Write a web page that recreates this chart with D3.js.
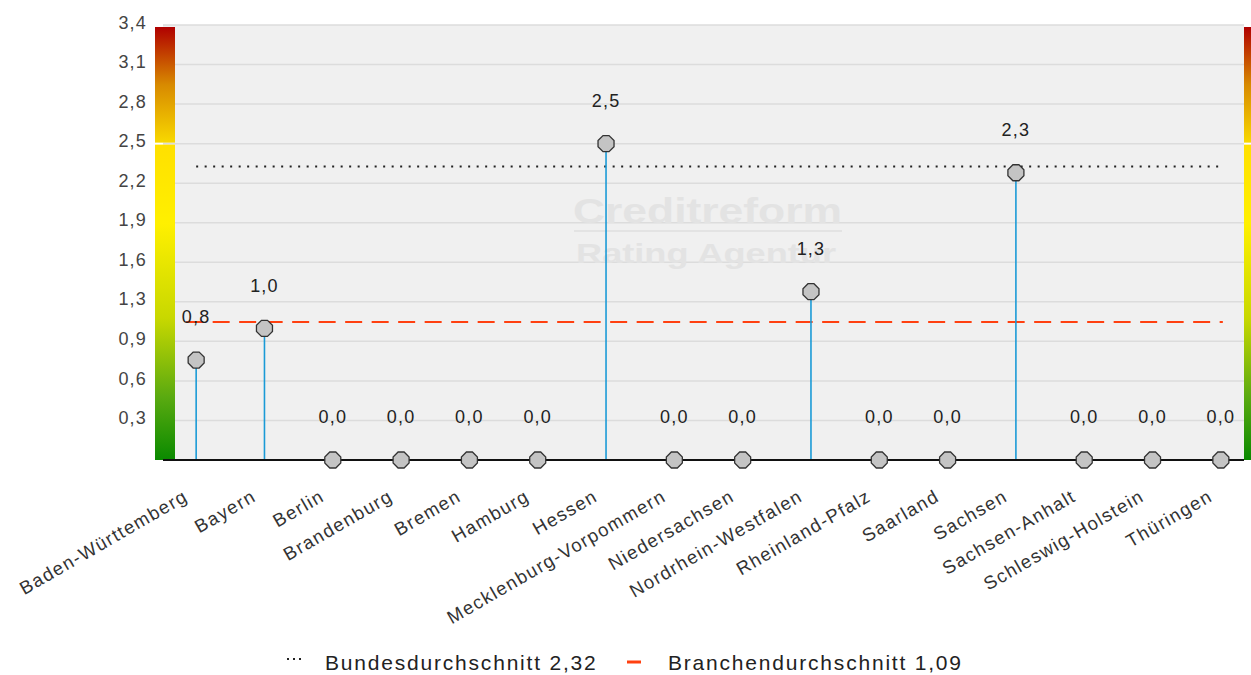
<!DOCTYPE html>
<html><head><meta charset="utf-8">
<script src="https://cdn.jsdelivr.net/npm/d3@7"></script>
<style>
html,body{margin:0;padding:0;background:#fff;}
svg{display:block;font-family:"Liberation Sans",Arial,sans-serif;}
</style></head>
<body><svg id="chart" width="1251" height="675"></svg>
<script>
const categories = ["Baden-Württemberg","Bayern","Berlin","Brandenburg","Bremen","Hamburg","Hessen","Mecklenburg-Vorpommern","Niedersachsen","Nordrhein-Westfalen","Rheinland-Pfalz","Saarland","Sachsen","Sachsen-Anhalt","Schleswig-Holstein","Thüringen"];
const values = [0.79, 1.04, 0, 0, 0, 0, 2.5, 0, 0, 1.33, 0, 0, 2.27, 0, 0, 0];
const yTickValues = [0.3125, 0.625, 0.9375, 1.25, 1.5625, 1.875, 2.1875, 2.5, 2.8125, 3.125, 3.4375];
const yTickLabels = ["0,3","0,6","0,9","1,3","1,6","1,9","2,2","2,5","2,8","3,1","3,4"];
const yMax = 3.4375;
const bundesAvg = 2.32;
const branchenAvg = 1.09;
const legendLabels = ["Bundesdurchschnitt 2,32", "Branchendurchschnitt 1,09"];

const svg = d3.select("#chart");
const x = d3.scaleBand().domain(categories).range([162, 1255]);
const y = d3.scaleLinear().domain([0, yMax]).range([460, 25]);
const cx = d => x(d) + x.bandwidth() / 2;
const fmt = v => d3.format(".1f")(v).replace(".", ",");

// background
svg.append("rect").attr("x", 163).attr("y", y(yMax)).attr("width", 1244 - 163).attr("height", y(0) - y(yMax)).attr("fill", "#f0f0f0");

// gridlines
svg.append("g").selectAll("line").data(yTickValues).join("line")
  .attr("x1", 163).attr("x2", 1244).attr("y1", d => y(d)).attr("y2", d => y(d))
  .attr("stroke", "#dcdcdc").attr("stroke-width", 1.5);

// gradients
const defs = svg.append("defs");
const gTop = defs.append("linearGradient").attr("id", "gTop").attr("x1", 0).attr("y1", 0).attr("x2", 0).attr("y2", 1);
gTop.append("stop").attr("offset", "0%").attr("stop-color", "#b00000");
gTop.append("stop").attr("offset", "50%").attr("stop-color", "#d88a00");
gTop.append("stop").attr("offset", "100%").attr("stop-color", "#f8d800");
const gBot = defs.append("linearGradient").attr("id", "gBot").attr("x1", 0).attr("y1", 0).attr("x2", 0).attr("y2", 1);
gBot.append("stop").attr("offset", "0%").attr("stop-color", "#ffe000");
gBot.append("stop").attr("offset", "25%").attr("stop-color", "#fff000");
gBot.append("stop").attr("offset", "55%").attr("stop-color", "#c8d800");
gBot.append("stop").attr("offset", "80%").attr("stop-color", "#5aaa10");
gBot.append("stop").attr("offset", "100%").attr("stop-color", "#0a8a00");

[155, 1244].forEach(bx => {
  svg.append("rect").attr("x", bx).attr("y", y(yMax) + 2).attr("width", 20).attr("height", y(2.5) - y(yMax) - 3).attr("fill", "url(#gTop)");
  svg.append("rect").attr("x", bx).attr("y", y(2.5) + 1).attr("width", 20).attr("height", y(0) - y(2.5) - 1).attr("fill", "url(#gBot)");
});

// watermark
const wm = svg.append("g").attr("fill", "#e3e3e3").attr("font-weight", "bold").attr("font-family", "'Liberation Sans',Arial,sans-serif");
wm.append("text").attr("x", 573).attr("y", 223).attr("font-size", 35)
  .attr("textLength", 269).attr("lengthAdjust", "spacingAndGlyphs").text("Creditreform");
wm.append("line").attr("x1", 574).attr("x2", 842).attr("y1", 231).attr("y2", 231).attr("stroke", "#e3e3e3").attr("stroke-width", 2);
wm.append("text").attr("x", 576).attr("y", 263).attr("font-size", 28)
  .attr("textLength", 260).attr("lengthAdjust", "spacingAndGlyphs").text("Rating Agentur");

// y tick labels
svg.append("g").selectAll("text").data(yTickValues).join("text")
  .attr("x", 147).attr("y", d => y(d)).attr("dy", "0.2em").attr("text-anchor", "end")
  .attr("font-size", 18).attr("letter-spacing", 1.2).attr("fill", "#444").text((d, i) => yTickLabels[i]);

// average lines
svg.append("line").attr("x1", cx(categories[0])).attr("x2", cx(categories[categories.length - 1]))
  .attr("y1", y(bundesAvg)).attr("y2", y(bundesAvg))
  .attr("stroke", "#222").attr("stroke-width", 2).attr("stroke-dasharray", "2,6.5");
svg.append("line").attr("x1", cx(categories[0]) - 10).attr("x2", cx(categories[categories.length - 1]) + 2)
  .attr("y1", y(branchenAvg)).attr("y2", y(branchenAvg))
  .attr("stroke", "#ff4010").attr("stroke-width", 2).attr("stroke-dasharray", "17,9.5");

// stems
svg.append("g").selectAll("line").data(categories).join("line")
  .attr("x1", d => cx(d)).attr("x2", d => cx(d))
  .attr("y1", (d, i) => y(values[i])).attr("y2", y(0))
  .attr("stroke", "#1a9ad6").attr("stroke-width", 1.6);

// axis line
svg.append("line").attr("x1", 163).attr("x2", 1244).attr("y1", y(0)).attr("y2", y(0)).attr("stroke", "#111").attr("stroke-width", 2);

// markers
const oct = "M-3,-8L3,-8L8,-3L8,3L3,8L-3,8L-8,3L-8,-3Z";
svg.append("g").selectAll("path").data(categories).join("path")
  .attr("d", oct).attr("transform", (d, i) => `translate(${cx(d)},${y(values[i])})`)
  .attr("fill", "#c4c4c4").attr("stroke", "#333").attr("stroke-width", 1.3);

// value labels
svg.append("g").selectAll("text").data(categories).join("text")
  .attr("x", d => cx(d)).attr("y", (d, i) => y(values[i]) - 43).attr("dy", "0.35em")
  .attr("text-anchor", "middle").attr("font-size", 18).attr("letter-spacing", 1.2).attr("fill", "#222")
  .text((d, i) => fmt(values[i]));

// x labels
svg.append("g").selectAll("text").data(categories).join("text")
  .attr("transform", d => `translate(${cx(d) - 14},${488}) rotate(-30)`)
  .attr("text-anchor", "end").attr("dy", "0.75em").attr("font-size", 18.5).attr("letter-spacing", 1.4).attr("fill", "#333")
  .text(d => d);

// legend
const lg = svg.append("g").attr("font-size", 21).attr("letter-spacing", 1.8).attr("fill", "#222");
lg.append("line").attr("x1", 287).attr("x2", 301).attr("y1", 659).attr("y2", 659).attr("stroke", "#222").attr("stroke-width", 2).attr("stroke-dasharray", "2,4");
lg.append("text").attr("x", 325).attr("y", 663).attr("dy", "0.35em").text(legendLabels[0]);
lg.append("line").attr("x1", 627).attr("x2", 641).attr("y1", 662).attr("y2", 662).attr("stroke", "#ff4010").attr("stroke-width", 3);
lg.append("text").attr("x", 668).attr("y", 663).attr("dy", "0.35em").text(legendLabels[1]);
</script></body></html>
